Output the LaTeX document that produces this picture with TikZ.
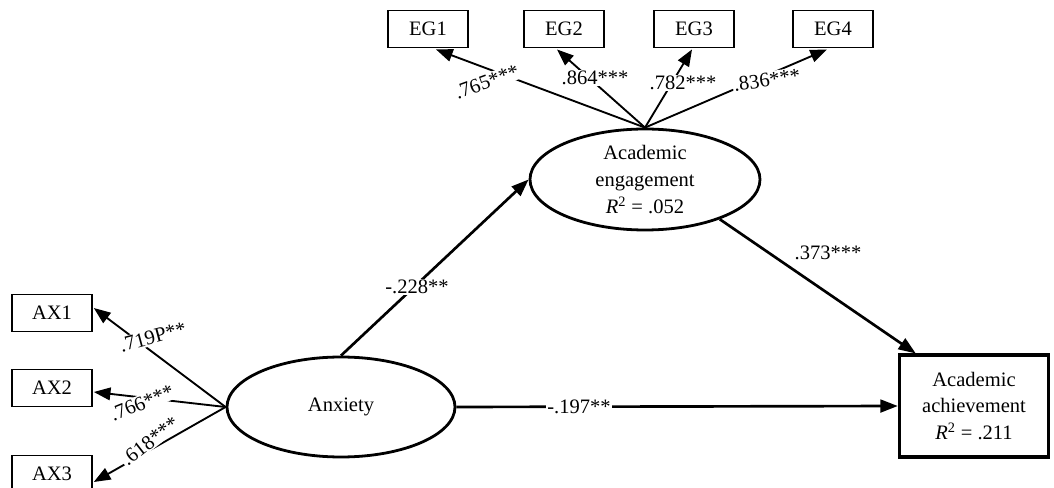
\documentclass[tikz,border=0pt]{standalone}
\usepackage{fontspec}
\setmainfont{Liberation Serif}
\usetikzlibrary{arrows.meta,shapes.geometric,calc}
\begin{document}
\begin{tikzpicture}[x=0.75pt,y=-0.75pt,
  font=\fontsize{15.4}{20}\selectfont,
  latent/.style={ellipse,draw,line width=2.1pt,fill=white,inner sep=0pt,align=center},
  obsbox/.style={rectangle,draw,line width=1.2pt,fill=white,minimum width=60pt,minimum height=28pt,inner sep=0pt},
  outbox/.style={rectangle,draw,line width=2.3pt,fill=white,minimum width=112pt,minimum height=76.5pt,inner sep=0pt,align=center},
  path/.style={line width=2pt,-{Triangle[length=13pt,width=9.5pt]}},
  load/.style={line width=1.4pt,-{Triangle[length=12.5pt,width=9.5pt]}},
  coef/.style={fill=white,inner sep=1pt}]
\useasboundingbox (0,0) rectangle (1054,488);
% observed indicators
\node[obsbox] (ax1) at (52,313) {AX1};
\node[obsbox] (ax2) at (52,388) {AX2};
\node[obsbox] (ax3) at (52,474) {AX3};
\node[obsbox] (eg1) at (428,29) {EG1};
\node[obsbox] (eg2) at (564,29) {EG2};
\node[obsbox] (eg3) at (694,29) {EG3};
\node[obsbox] (eg4) at (833,29) {EG4};
% latent variables
\node[latent,minimum width=171pt,minimum height=75pt] (anx) at (341,407) {Anxiety};
\node[latent,minimum width=172.5pt,minimum height=75.75pt] (eng) at (645,179.5) {Academic\\engagement\\{\itshape R}\textsuperscript{2} = .052};
\node[outbox] (ach) at (974,406) {Academic\\achievement\\{\itshape R}\textsuperscript{2} = .211};
% loadings
\draw[load] (anx.west) -- ($(ax1.east)+(1,-5)$);
\draw[load] (anx.west) -- ($(ax2.east)+(1,4)$);
\draw[load] (anx.west) -- ($(ax3.east)+(1,8)$);
\draw[load] (eng.north) -- ($(eg1.south)+(8,1)$);
\draw[load] (eng.north) -- ($(eg2.south)+(-7,1)$);
\draw[load] (eng.north) -- ($(eg3.south)+(-2,1)$);
\draw[load] (eng.north) -- ($(eg4.south)+(-6,1)$);
% structural paths
\draw[path] (anx.north) -- (eng.west);
\draw[path] (eng.-28) -- ($(ach.north west)+(18,0)$);
\draw[path] (anx.east) -- (ach.west);
% coefficients
\node[coef,rotate=15] (l1) at (153,337) {.719P**};
\node[coef,rotate=22] (l2) at (142,403) {.766***};
\node[coef,rotate=38] (l3) at (150,441) {.618***};
\node[coef,rotate=20] (l4) at (487,82) {.765***};
\node[coef] (l5) at (595,78) {.864***};
\node[coef] (l6) at (683,83) {.782***};
\node[coef,rotate=8] (l7) at (767,80) {.836***};
\node[coef] (l8) at (417,287) {-.228**};
\node[coef] (l9) at (579,407) {-.197**};
\node[coef] (l10) at (828,253) {.373***};
\end{tikzpicture}
\end{document}
